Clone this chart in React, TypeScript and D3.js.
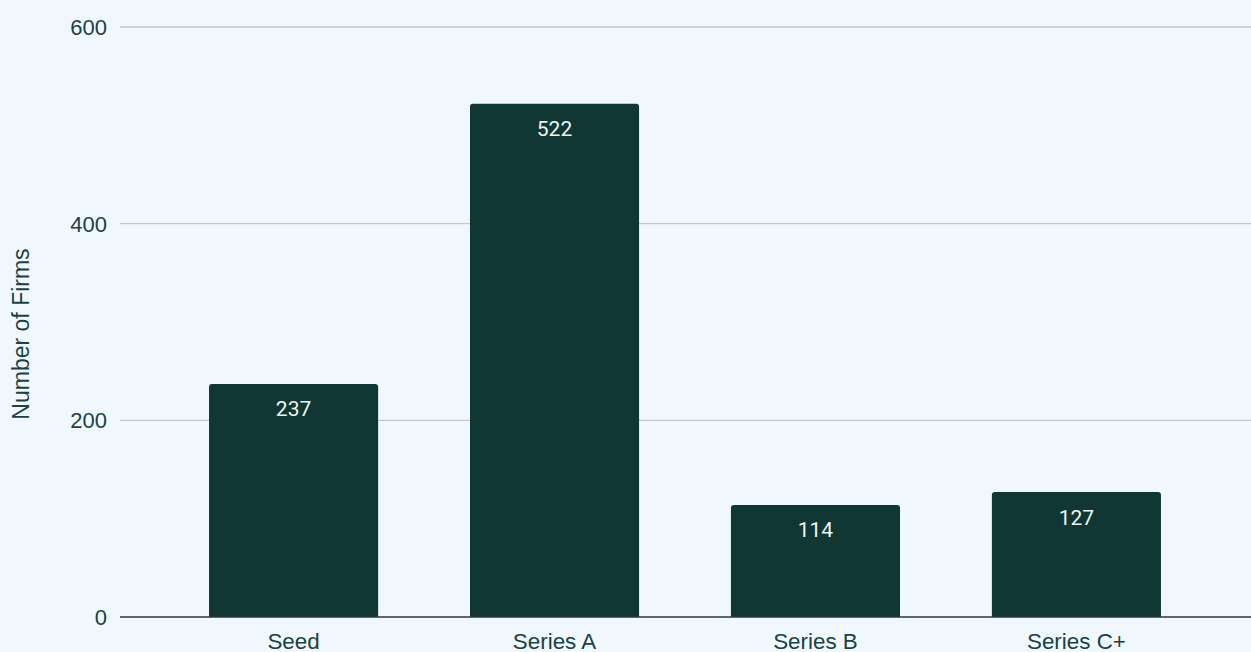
import React from "react";
import * as d3 from "d3";

const categories = ["Seed", "Series A", "Series B", "Series C+"];
const values = [237, 522, 114, 127];
const yTicks = [0, 200, 400, 600];
const yTitle = "Number of Firms";

const W = 1251;
const H = 652;

export default function App() {
  const x = d3
    .scaleBand<string>()
    .domain(categories)
    .range([119, 1251])
    .paddingInner(0.352)
    .paddingOuter(0.345);
  const y = d3.scaleLinear().domain([0, 600]).range([617, 27]);
  const font = "'Liberation Sans', Arial, sans-serif";
  const labelFont = "Roboto, 'Liberation Sans', sans-serif";
  const r = 3;

  const barPath = (x0: number, w: number, yTop: number, yBot: number) => {
    return `M${x0},${yBot} L${x0},${yTop + r} Q${x0},${yTop} ${x0 + r},${yTop} L${x0 + w - r},${yTop} Q${x0 + w},${yTop} ${x0 + w},${yTop + r} L${x0 + w},${yBot} Z`;
  };

  return (
    <svg
      width={W}
      height={H}
      style={{ position: "absolute", left: 0, top: 0, display: "block" }}
    >
      <rect x={0} y={0} width={W} height={H} fill="#f0f8fe" />
      {yTicks.map((t) => (
        <g key={t}>
          {t !== 0 && (
            <line x1={120} x2={1251} y1={y(t)} y2={y(t)} stroke="#c2c9cb" strokeWidth={1.3} />
          )}
          <text
            x={107}
            y={y(t)}
            dy="0.36em"
            textAnchor="end"
            fontFamily={font}
            fontSize={22}
            fill="#1b4242"
          >
            {t}
          </text>
        </g>
      ))}
      {categories.map((c, i) => {
        const x0 = x(c)!;
        const w = x.bandwidth();
        const top = y(values[i]);
        return (
          <g key={c}>
            <path d={barPath(x0, w, top, y(0))} fill="#103733" />
            <text
              x={x0 + w / 2}
              y={top + 32.5}
              textAnchor="middle"
              fontFamily={labelFont}
              fontSize={21}
              fill="#eef4f2"
            >
              {values[i]}
            </text>
            <text
              x={x0 + w / 2}
              y={649}
              textAnchor="middle"
              fontFamily={font}
              fontSize={22.4}
              fill="#1b4242"
            >
              {c}
            </text>
          </g>
        );
      })}
      <line x1={120} x2={1251} y1={y(0)} y2={y(0)} stroke="#2b3838" strokeWidth={1.6} />
      <text
        transform={`translate(28.5,334) rotate(-90)`}
        textAnchor="middle"
        fontFamily={font}
        fontSize={23}
        fill="#1b4242"
      >
        {yTitle}
      </text>
    </svg>
  );
}
